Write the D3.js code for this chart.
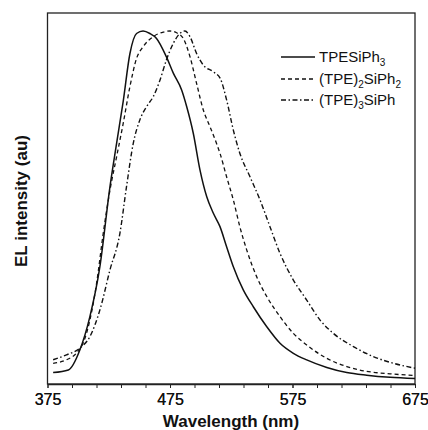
<!DOCTYPE html>
<html>
<head>
<meta charset="utf-8">
<script src="https://cdn.jsdelivr.net/npm/d3@7"></script>
<style>
  body { margin: 0; background: #fff; }
  text { font-family: "Liberation Sans", Arial, sans-serif; fill: #111; }
</style>
</head>
<body>
<svg id="svg1" width="428" height="430"></svg>
<script>
// wavelength (nm) and normalised EL intensity
const wlSolid = [379.6, 392, 401.4, 409.6, 417.8, 426, 431.4, 436.8, 442.3, 447.7, 453, 458.6, 464, 472, 477.7, 484.5, 488.6, 494, 499.5, 505, 510.4, 515.8, 521.2, 526.7, 534.8, 543, 554, 564.8, 575.7, 586.6, 603, 619.3, 635.6, 654.7, 675];
const elSolid = [0.0275, 0.035, 0.092, 0.187, 0.33, 0.557, 0.68, 0.80, 0.936, 0.993, 1.0, 0.993, 0.979, 0.927, 0.88, 0.832, 0.785, 0.709, 0.604, 0.528, 0.481, 0.443, 0.386, 0.329, 0.263, 0.215, 0.158, 0.111, 0.0825, 0.0636, 0.042, 0.0275, 0.02, 0.014, 0.0104];

const wlDash = [379.6, 390.5, 398.7, 404, 409.6, 415, 420.5, 426, 431.4, 436.8, 442.3, 447.7, 453, 461.3, 469.5, 475, 480.4, 485.8, 491.3, 496.7, 502.2, 507.6, 513, 515.8, 521.2, 526.7, 532, 537.6, 545.8, 554, 564.8, 575.7, 586.6, 603, 619.3, 635.6, 654.7, 675];
const elDash = [0.054, 0.064, 0.083, 0.111, 0.177, 0.28, 0.424, 0.547, 0.642, 0.737, 0.842, 0.922, 0.955, 0.984, 0.997, 1.0, 0.995, 0.979, 0.927, 0.851, 0.775, 0.728, 0.68, 0.652, 0.585, 0.519, 0.443, 0.377, 0.30, 0.244, 0.187, 0.139, 0.106, 0.068, 0.0446, 0.031, 0.024, 0.019];

const wlDashDot = [379.6, 390.5, 401.4, 409.6, 417.8, 426, 434.1, 439.5, 445, 450.4, 455.9, 461.3, 466.8, 472, 477.7, 483, 487.2, 491.3, 496.7, 502.2, 510.4, 516, 521.2, 526.7, 532, 540.3, 548.5, 556.6, 564.8, 575.7, 586.6, 597.5, 608.4, 624.7, 641, 657.4, 675];
const elDashDot = [0.064, 0.078, 0.097, 0.13, 0.206, 0.32, 0.424, 0.557, 0.68, 0.747, 0.785, 0.813, 0.86, 0.917, 0.965, 0.993, 1.0, 0.984, 0.936, 0.903, 0.884, 0.865, 0.804, 0.718, 0.652, 0.585, 0.519, 0.443, 0.367, 0.291, 0.234, 0.177, 0.139, 0.1015, 0.073, 0.054, 0.04];

const seriesNames = ["TPESiPh3", "(TPE)2SiPh2", "(TPE)3SiPh"];
const xTickLabels = [375, 475, 575, 675];

const svg = d3.select("#svg1");

const plotLeft = 47.5, plotRight = 415, plotTop = 13, plotBottom = 384;

const xScale = d3.scaleLinear().domain([375, 675]).range([plotLeft, plotRight]);
const yScale = d3.scaleLinear().domain([-0.005, 1.0513]).range([plotBottom, plotTop]);

// frame
svg.append("rect")
    .attr("x", plotLeft).attr("y", plotTop)
    .attr("width", plotRight - plotLeft).attr("height", plotBottom - plotTop)
    .attr("fill", "none").attr("stroke", "#222").attr("stroke-width", 1.3);

// bottom axis, minor ticks every 20 nm
const xAxis = d3.axisBottom(xScale)
    .tickValues(d3.range(375, 676, 20).concat(xTickLabels))
    .tickSizeInner(4).tickSizeOuter(0)
    .tickFormat(d => xTickLabels.includes(d) ? d : "");
const gx = svg.append("g").attr("transform", `translate(0,${plotBottom})`).call(xAxis);
gx.select(".domain").attr("stroke", "#222").attr("stroke-width", 1.3);
gx.selectAll(".tick line").attr("stroke", "#222");
gx.selectAll(".tick text")
    .attr("y", 10)
    .style("font-family", '"Liberation Sans", Arial, sans-serif')
    .style("font-size", "16px").attr("fill", "#111");

// axis titles
svg.append("text")
    .attr("x", 231).attr("y", 427)
    .attr("text-anchor", "middle")
    .style("font-size", "17px").style("font-weight", "bold")
    .text("Wavelength (nm)");

svg.append("text")
    .attr("transform", "translate(27,201) rotate(-90)")
    .attr("text-anchor", "middle")
    .style("font-size", "17px").style("font-weight", "bold")
    .text("EL intensity (au)");

const line = d3.line()
    .x(d => xScale(d[0]))
    .y(d => yScale(d[1]))
    .curve(d3.curveMonotoneX);

const series = [
    { wl: wlSolid, el: elSolid, dash: null, w: 1.5 },
    { wl: wlDash, el: elDash, dash: "4,3", w: 1.3 },
    { wl: wlDashDot, el: elDashDot, dash: "5,2.5,1.5,2.5", w: 1.4 }
];

series.forEach(s => {
    svg.append("path")
        .datum(d3.zip(s.wl, s.el))
        .attr("fill", "none")
        .attr("stroke", "#111")
        .attr("stroke-width", s.w)
        .attr("stroke-dasharray", s.dash)
        .attr("d", line);
});

// legend
const legendY = [57, 79, 100];
const legend = svg.append("g");
series.forEach((s, i) => {
    legend.append("line")
        .attr("x1", 281).attr("x2", 315)
        .attr("y1", legendY[i]).attr("y2", legendY[i])
        .attr("stroke", "#111").attr("stroke-width", s.w + 0.2)
        .attr("stroke-dasharray", s.dash);
    const t = legend.append("text")
        .attr("x", 319).attr("y", legendY[i] + 5)
        .style("font-size", "15px");
    // chemical name: digits become subscripts
    const parts = seriesNames[i].match(/\d+|\D+/g);
    let shift = 0;
    parts.forEach(p => {
        const sub = /\d/.test(p);
        const dy = (sub ? 4 : 0) - shift;
        shift = sub ? 4 : 0;
        t.append("tspan")
            .attr("dy", dy)
            .style("font-size", sub ? "10px" : null)
            .text(p);
    });
});
</script>
</body>
</html>
